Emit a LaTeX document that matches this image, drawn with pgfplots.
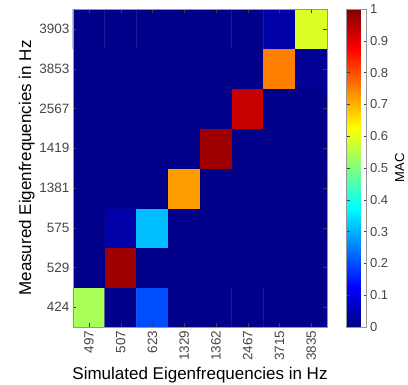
\documentclass[border=0pt]{standalone}
\usepackage{fontspec}
\setmainfont{Liberation Sans}
\usepackage{pgfplots}
\pgfplotsset{compat=1.18}
\definecolor{tickgray}{RGB}{70,70,70}
\definecolor{framegray}{RGB}{150,150,150}
\begin{document}
\begin{tikzpicture}
\path[use as bounding box] (-73pt,-58pt) rectangle (335pt,327pt);
\begin{axis}[
  at={(0pt,0pt)}, anchor=south west,
  scale only axis, width=254pt, height=318pt,
  xmin=-0.5, xmax=7.5, ymin=-0.5, ymax=7.5,
  xtick={0,...,7}, ytick={0,...,7},
  xticklabels={497,507,623,1329,1362,2467,3715,3835},
  yticklabels={424,529,575,1381,1419,2567,3853,3903},
  /pgf/number format/assume math mode=true,
  tick label style={font=\fontsize{13.5}{15}\selectfont, text=tickgray},
  x tick label style={rotate=90, anchor=east},
  label style={font=\fontsize{17}{20}\selectfont},
  xlabel={Simulated Eigenfrequencies in Hz},
  ylabel={Measured Eigenfrequencies in Hz},
  ylabel style={yshift=-2pt},
  axis line style={framegray},
  tick align=inside, major tick length=3.5pt,
  tick style={black!75},
  axis on top,
  colormap/jet, point meta min=0, point meta max=1,
  colorbar,
  colorbar style={
    at={(parent axis.north east)}, anchor=north west, xshift=11pt,
    width=20pt,
    ytick={0,0.1,0.2,0.3,0.4,0.5,0.6,0.7,0.8,0.9,1},
    yticklabels={0,0.1,0.2,0.3,0.4,0.5,0.6,0.7,0.8,0.9,1},
    yticklabel pos=right, ylabel near ticks,
    ylabel={MAC},
    ylabel style={font=\fontsize{13}{15}\selectfont},
    tick label style={font=\fontsize{13}{15}\selectfont, text=tickgray},
    tick align=inside, major tick length=3pt,
    axis line style={framegray},
  },
]
\addplot[matrix plot*, shader=faceted, faceted color=mapped color, line width=0.3pt, mesh/cols=8, point meta=explicit] table[meta=c]{
x y c
0 0 0.54
1 0 0.01
2 0 0.20
3 0 0.01
4 0 0.01
5 0 0.01
6 0 0.01
7 0 0.01
0 1 0.01
1 1 0.97
2 1 0.01
3 1 0.01
4 1 0.01
5 1 0.01
6 1 0.01
7 1 0.01
0 2 0.01
1 2 0.04
2 2 0.31
3 2 0.01
4 2 0.01
5 2 0.01
6 2 0.01
7 2 0.01
0 3 0.01
1 3 0.01
2 3 0.01
3 3 0.72
4 3 0.01
5 3 0.01
6 3 0.01
7 3 0.01
0 4 0.01
1 4 0.01
2 4 0.01
3 4 0.01
4 4 0.97
5 4 0.01
6 4 0.01
7 4 0.01
0 5 0.01
1 5 0.01
2 5 0.01
3 5 0.01
4 5 0.01
5 5 0.93
6 5 0.01
7 5 0.01
0 6 0.01
1 6 0.01
2 6 0.01
3 6 0.01
4 6 0.01
5 6 0.01
6 6 0.75
7 6 0.02
0 7 0.01
1 7 0.01
2 7 0.01
3 7 0.01
4 7 0.01
5 7 0.01
6 7 0.04
7 7 0.59
};
\end{axis}
\end{tikzpicture}
\end{document}
